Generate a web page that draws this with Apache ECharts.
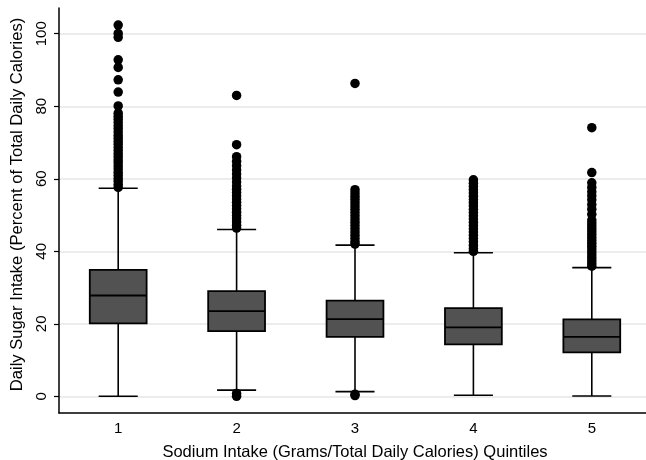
<!DOCTYPE html>
<html>
<head>
<meta charset="utf-8">
<script src="https://cdn.jsdelivr.net/npm/echarts@6/dist/echarts.min.js"></script>
<style>
    html, body { margin: 0; padding: 0; background: #fff; }
    #chart { width: 646px; height: 460px; }
</style>
</head>
<body>
<div id="chart"></div>
<script>
// quintile categories
var categories = ['1', '2', '3', '4', '5'];
var yTicks = [0, 20, 40, 60, 80, 100];

// [lower whisker, Q1, median, Q3, upper whisker]
var boxStats = [
    [0.0, 20.1, 27.8, 34.9, 57.4],
    [1.7, 18.0, 23.5, 29.0, 46.0],
    [1.3, 16.4, 21.3, 26.4, 41.7],
    [0.3, 14.3, 19.0, 24.3, 39.6],
    [0.1, 12.1, 16.4, 21.2, 35.5]
];

// outside values for each quintile
var outliers1 = [102.4, 100.1, 99.0, 92.8, 90.7, 87.3, 83.9, 80.1, 78.1, 77.2, 76.4, 75.5, 74.6, 73.8,
    72.9, 72.0, 71.2, 70.3, 69.5, 68.6, 67.8, 66.9, 66.1, 65.2, 64.4, 63.5, 62.7, 61.8, 61.0, 60.1,
    59.3, 58.4, 57.6];
var outliers2 = [83.0, 69.4, 66.1, 64.8, 63.6, 62.4, 61.3, 60.2, 59.1, 58.0, 57.1, 56.2, 55.3, 54.4,
    53.5, 52.6, 51.7, 50.8, 49.9, 49.0, 48.1, 47.2, 46.4, 0.0, 0.8];
var outliers3 = [86.3, 57.0, 56.1, 55.2, 54.3, 53.4, 52.5, 51.6, 50.7, 49.8, 48.9, 48.0, 47.1, 46.2,
    45.3, 44.4, 43.5, 42.6, 42.0, 0.2, 0.6];
var outliers4 = [59.7, 58.8, 57.9, 57.0, 56.1, 55.2, 54.3, 53.4, 52.5, 51.6, 50.7, 49.8, 48.9, 48.0,
    47.1, 46.2, 45.3, 44.4, 43.5, 42.6, 41.7, 40.8, 40.0];
var outliers5 = [74.1, 61.7, 58.9, 57.6, 56.4, 55.3, 54.2, 52.9, 51.6, 50.2, 48.6, 47.8, 47.0, 46.2,
    45.4, 44.6, 43.8, 43.0, 42.2, 41.4, 40.6, 39.8, 39.0, 38.2, 37.4, 36.6, 35.9];

var outlierLists = [outliers1, outliers2, outliers3, outliers4, outliers5];
var outlierData = [];
for (let i = 0; i < outlierLists.length; i++) {
    for (let j = 0; j < outlierLists[i].length; j++) {
        outlierData.push([i, outlierLists[i][j]]);
    }
}
var boxData = [];
for (let i = 0; i < boxStats.length; i++) {
    boxData.push([i].concat(boxStats[i]));
}

var font = 'Liberation Sans, Arial, Helvetica, sans-serif';

// box drawn by hand so the caps can be narrower than the box
function renderBox(params, api) {
    var band = api.size([1, 0])[0];
    var half = band * 0.24;
    var capHalf = band * 0.165;
    var x = api.value(0);
    var pLo = api.coord([x, api.value(1)]);
    var pQ1 = api.coord([x, api.value(2)]);
    var pMed = api.coord([x, api.value(3)]);
    var pQ3 = api.coord([x, api.value(4)]);
    var pHi = api.coord([x, api.value(5)]);
    var cx = pMed[0];
    var lineStyle = { stroke: '#000', lineWidth: 1.6 };
    return {
        type: 'group',
        children: [
            { type: 'line', shape: { x1: cx, y1: pHi[1], x2: cx, y2: pQ3[1] }, style: lineStyle },
            { type: 'line', shape: { x1: cx, y1: pQ1[1], x2: cx, y2: pLo[1] }, style: lineStyle },
            { type: 'line', shape: { x1: cx - capHalf, y1: pHi[1], x2: cx + capHalf, y2: pHi[1] }, style: lineStyle },
            { type: 'line', shape: { x1: cx - capHalf, y1: pLo[1], x2: cx + capHalf, y2: pLo[1] }, style: lineStyle },
            {
                type: 'rect',
                shape: { x: cx - half, y: pQ3[1], width: half * 2, height: pQ1[1] - pQ3[1] },
                style: { fill: '#525252', stroke: '#000', lineWidth: 1.8 }
            },
            { type: 'line', shape: { x1: cx - half, y1: pMed[1], x2: cx + half, y2: pMed[1] }, style: { stroke: '#000', lineWidth: 1.8 } }
        ]
    };
}

var chart = echarts.init(document.getElementById('chart'));
var option = {
    backgroundColor: '#fff',
    animation: false,
    grid: {
        left: 59,
        top: 8,
        width: 592,
        height: 405,
        outerBoundsMode: 'none'
    },
    xAxis: {
        type: 'category',
        data: categories,
        name: 'Sodium Intake (Grams/Total Daily Calories) Quintiles',
        nameLocation: 'middle',
        nameGap: 31,
        nameTextStyle: { color: '#000', fontSize: 16.5, fontFamily: font },
        axisLine: { onZero: false, lineStyle: { color: '#000', width: 1.5 } },
        axisTick: { show: false },
        axisLabel: { color: '#000', fontSize: 15, fontFamily: font, margin: 8 },
        splitLine: { show: false }
    },
    yAxis: {
        type: 'value',
        min: -4.6,
        max: 107.1,
        name: 'Daily Sugar Intake (Percent of Total Daily Calories)',
        nameLocation: 'middle',
        nameGap: 28,
        nameTextStyle: { color: '#000', fontSize: 16.6, fontFamily: font, padding: [0, 0, 0, 12] },
        axisLine: { show: true, lineStyle: { color: '#000', width: 1.5 } },
        axisTick: { show: true, length: 5, customValues: yTicks, lineStyle: { color: '#000', width: 1.2 } },
        axisLabel: { color: '#000', fontSize: 15, fontFamily: font, rotate: 90, margin: 10, customValues: yTicks },
        splitLine: { show: true, lineStyle: { color: '#e6e6e6', width: 1.5 } }
    },
    series: [
        {
            type: 'custom',
            renderItem: renderBox,
            encode: { x: 0, y: [1, 2, 3, 4, 5] },
            data: boxData,
            z: 2
        },
        {
            type: 'scatter',
            data: outlierData,
            symbolSize: 9.5,
            itemStyle: { color: '#000', opacity: 1 },
            clip: false,
            z: 3
        }
    ]
};
chart.setOption(option);
</script>
</body>
</html>
